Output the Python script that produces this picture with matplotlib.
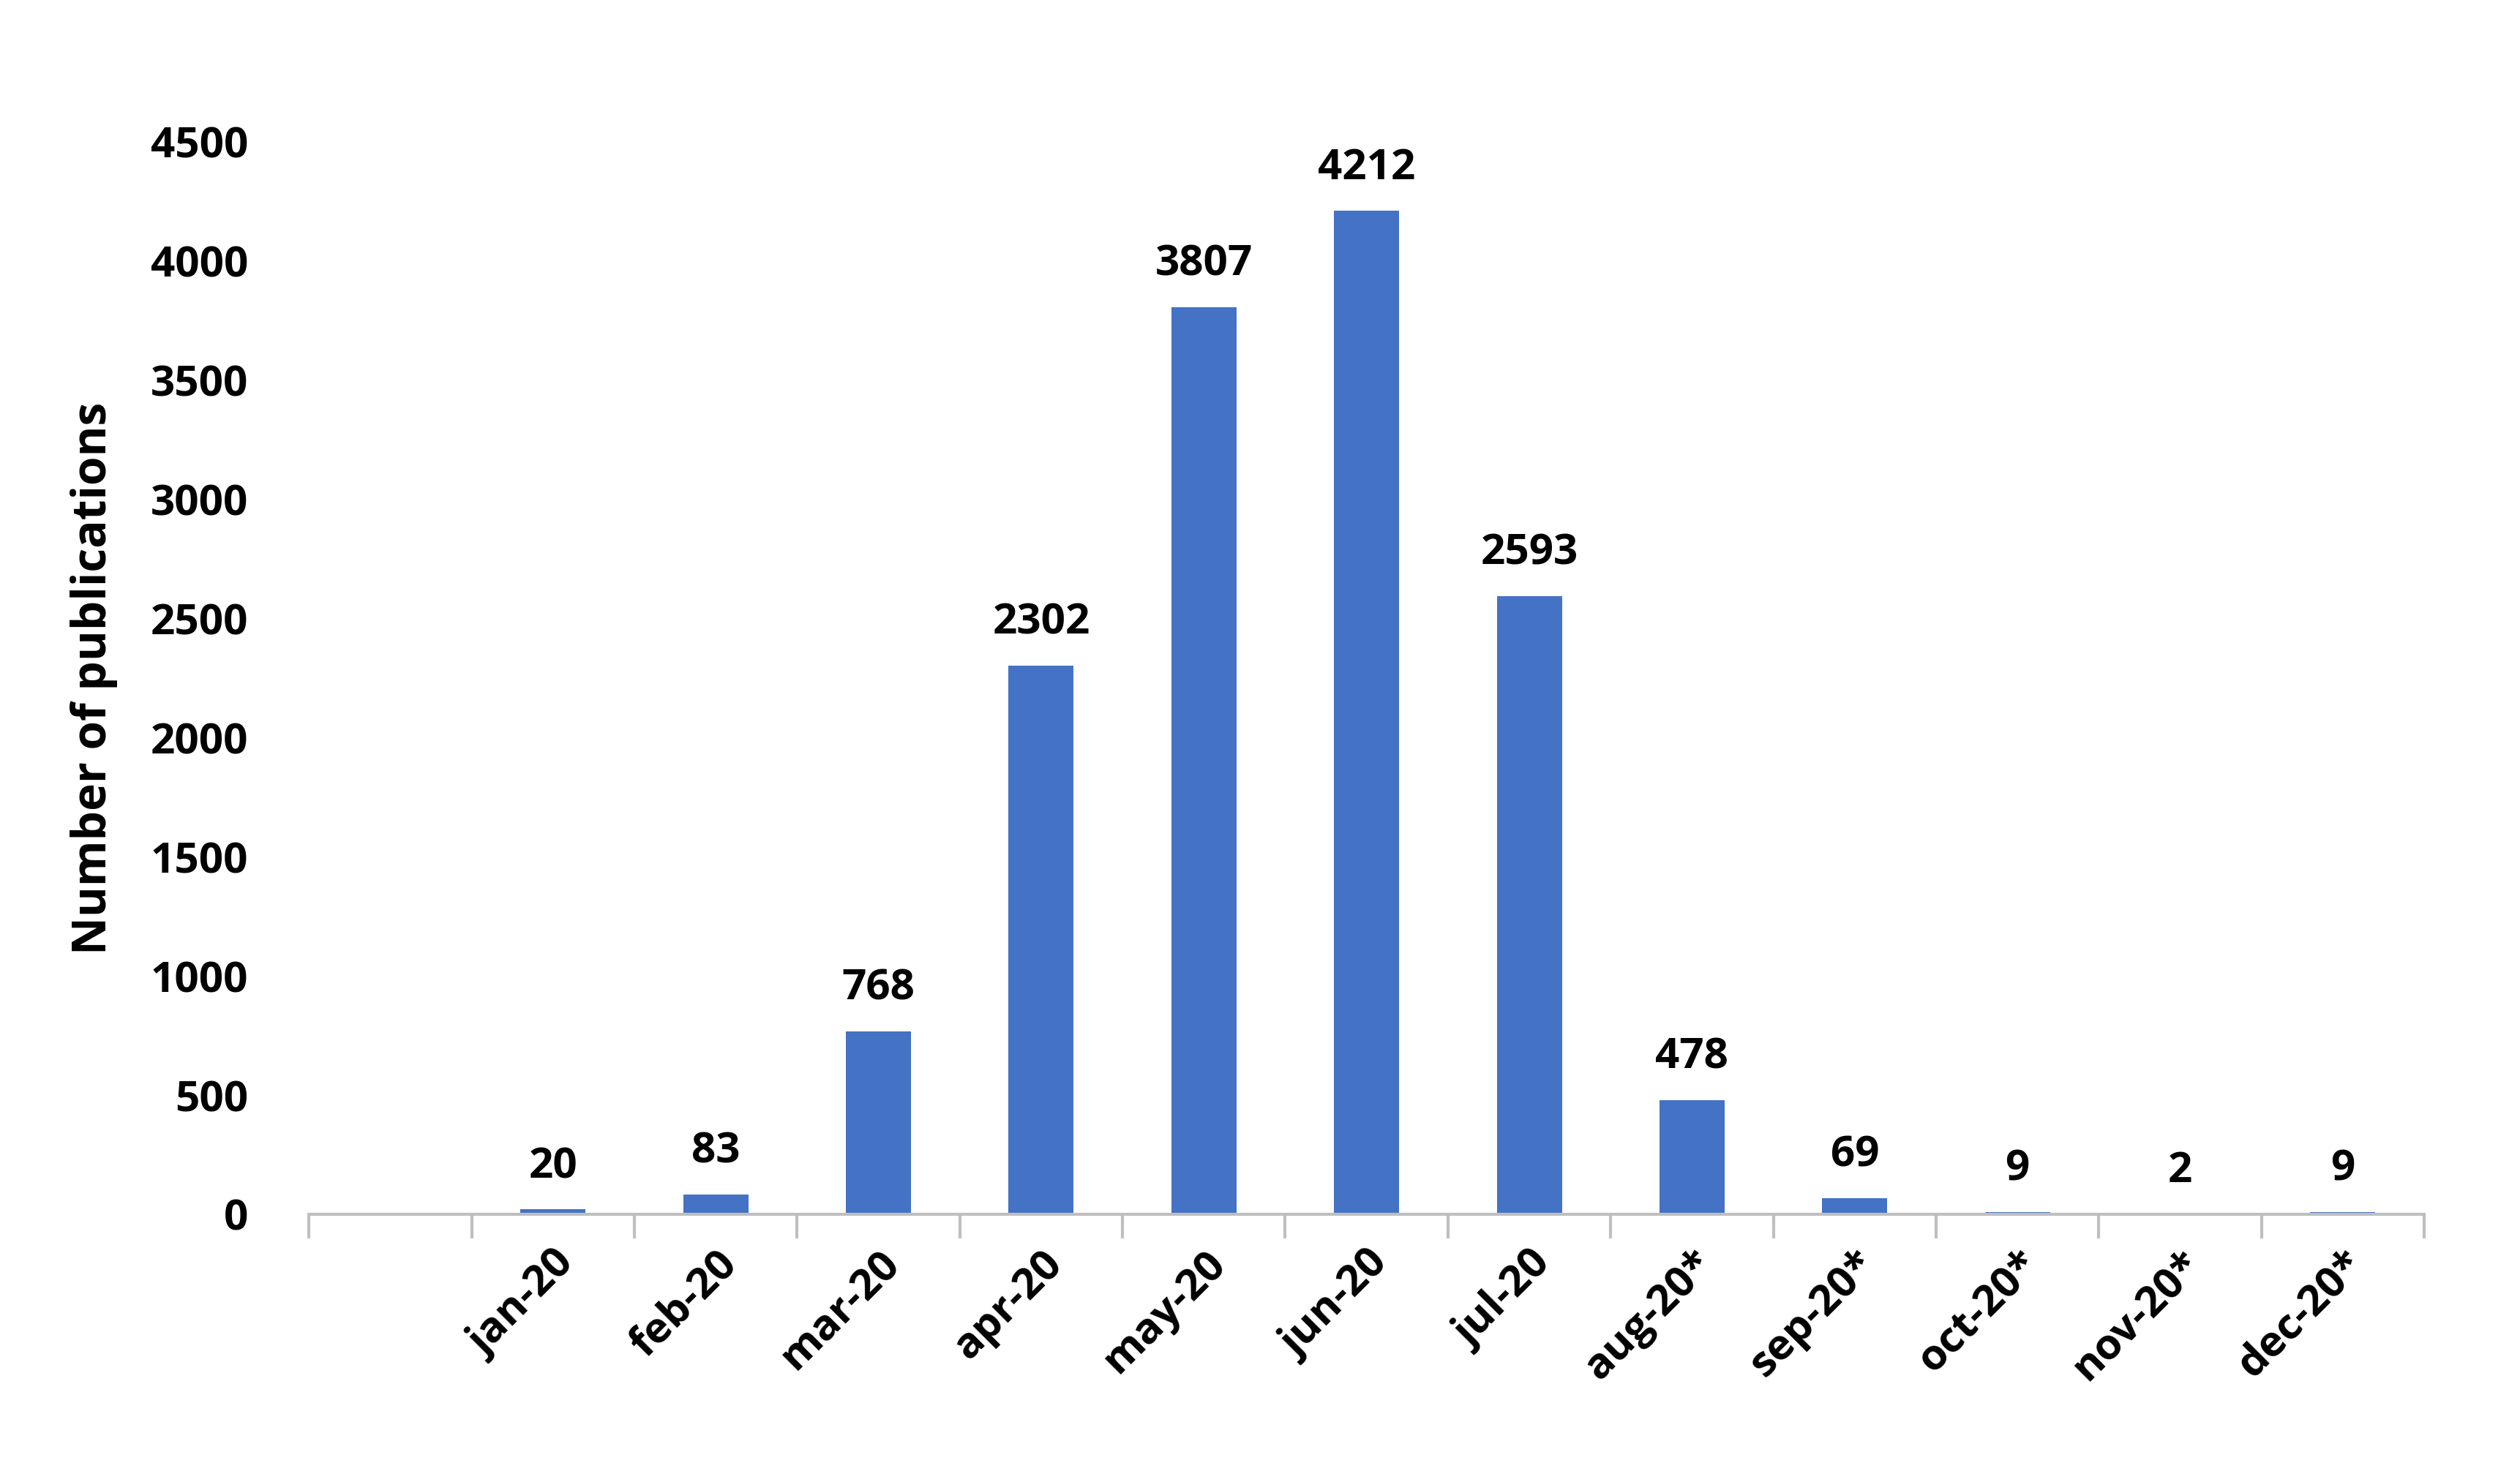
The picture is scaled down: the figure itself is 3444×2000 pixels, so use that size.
import matplotlib.pyplot as plt
import numpy as np

plt.rcParams['font.family'] = ['Open Sans', 'DejaVu Sans']

months = ["", "jan-20", "feb-20", "mar-20", "apr-20", "may-20", "jun-20", "jul-20",
          "aug-20*", "sep-20*", "oct-20*", "nov-20*", "dec-20*"]
counts = [0, 20, 83, 768, 2302, 3807, 4212, 2593, 478, 69, 9, 2, 9]

fig = plt.figure(figsize=(17.22, 10), dpi=200)
ax = fig.add_axes([0.1226, 0.170, 0.8394, 0.733])
x = np.arange(len(months))
ax.bar(x[1:], counts[1:], width=0.4, color='#4472C4')
for xi, c in zip(x[1:], counts[1:]):
    ax.text(xi, c + 90, str(c), ha='center', va='bottom', fontsize=21, fontweight='bold')

ax.set_xlim(-0.5, len(months) - 0.5)
ax.set_ylim(0, 4500)
ax.set_yticks(range(0, 4501, 500))
ax.tick_params(axis='y', length=0, labelsize=21, pad=30)
for t in ax.get_yticklabels():
    t.set_fontweight('bold')

ax.set_xticks(x)
ax.set_xticklabels(months, rotation=45, ha='right', rotation_mode='anchor',
                   fontsize=21, fontweight='bold')
ax.tick_params(axis='x', length=0, pad=14)
ax.set_xticks(np.arange(-0.5, len(months)), minor=True)
ax.tick_params(axis='x', which='minor', length=12, color='#BFBFBF', width=1.5)

for s in ['top', 'right', 'left']:
    ax.spines[s].set_visible(False)
ax.spines['bottom'].set_color('#BFBFBF')
ax.spines['bottom'].set_linewidth(1.5)
ax.set_ylabel("Number of publications", fontsize=23, fontweight='bold', labelpad=16)

fig.savefig("out.png", dpi=200)
